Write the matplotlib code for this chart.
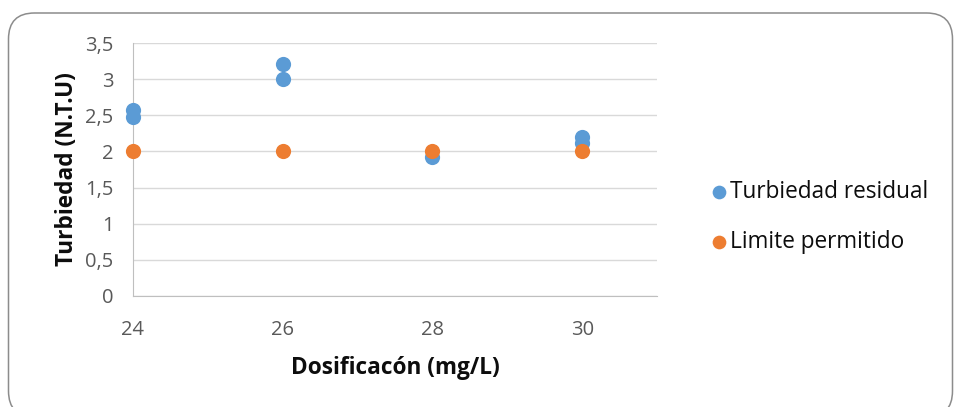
import matplotlib.pyplot as plt
from matplotlib.patches import FancyBboxPatch

plt.rcParams['font.family'] = ['Open Sans', 'DejaVu Sans']

# data
dosis_res = [24, 24, 26, 26, 28, 30, 30]
turbiedad_res = [2.57, 2.48, 3.21, 3.0, 1.92, 2.2, 2.12]
dosis_lim = [24, 26, 28, 30]
limite = [2.0, 2.0, 2.0, 2.0]
yticks = [0, 0.5, 1, 1.5, 2, 2.5, 3, 3.5]
xticks = [24, 26, 28, 30]

fig = plt.figure(figsize=(9.55, 4.07), dpi=100)

# rounded frame around the chart (inch coordinates)
frame = FancyBboxPatch((0.085, -0.1), 9.44, 4.04,
                       boxstyle="round,pad=0,rounding_size=0.26",
                       transform=fig.dpi_scale_trans, facecolor='white',
                       edgecolor='#8c8c8c', linewidth=1.1, zorder=-1)
fig.patches.append(frame)

ax = fig.add_axes([0.139, 0.273, 0.549, 0.621])
ax.set_facecolor('none')

ax.scatter(dosis_res, turbiedad_res, s=120, color='#5B9BD5', zorder=3,
           label='Turbiedad residual', linewidths=0, clip_on=False)
ax.scatter(dosis_lim, limite, s=120, color='#ED7D31', zorder=4,
           label='Limite permitido', linewidths=0, clip_on=False)

ax.set_xlim(24, 31)
ax.set_ylim(0, 3.5)
ax.set_xticks(xticks)
ax.set_xticklabels([str(x) for x in xticks])
ax.set_yticks(yticks)
ax.set_yticklabels([('%g' % v).replace('.', ',') for v in yticks])
ax.tick_params(length=0, labelsize=14.5, colors='#595959')
ax.tick_params(axis='y', pad=14)
ax.tick_params(axis='x', pad=17)

ax.grid(axis='y', color='#d9d9d9', linewidth=1)
ax.set_axisbelow(True)
for side in ['top', 'right']:
    ax.spines[side].set_visible(False)
ax.spines['left'].set_color('#bfbfbf')
ax.spines['bottom'].set_color('#bfbfbf')

ax.set_xlabel('Dosificacón (mg/L)', fontsize=16.3, fontweight='bold',
              labelpad=12, color='#0d0d0d')
ax.set_ylabel('Turbiedad (N.T.U)', fontsize=16.3, fontweight='bold',
              labelpad=4, color='#0d0d0d')

leg = fig.legend(loc='center left', bbox_to_anchor=(0.729, 0.467), frameon=False,
                 fontsize=16.3, handletextpad=-0.1, handlelength=1.2,
                 labelspacing=1.15, markerscale=0.9, borderaxespad=0)
for t in leg.get_texts():
    t.set_color('#0d0d0d')

fig.savefig('out.png', dpi=100)
